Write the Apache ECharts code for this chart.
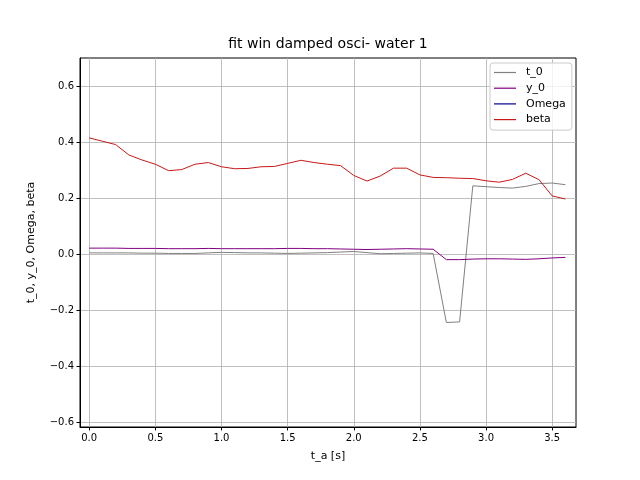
<!DOCTYPE html>
<html>
<head>
<meta charset="utf-8">
<script src="https://cdn.jsdelivr.net/npm/echarts@6/dist/echarts.min.js"></script>
<style>html,body{margin:0;padding:0;background:#fff}#c{width:640px;height:480px}</style>
</head>
<body>
<div id="c"></div>
<script>
var tA = [0.0,0.1,0.2,0.3,0.4,0.5,0.6,0.7,0.8,0.9,1.0,1.1,1.2,1.3,1.4,1.5,1.6,1.7,1.8,1.9,2.0,2.1,2.2,2.3,2.4,2.5,2.6,2.7,2.8,2.9,3.0,3.1,3.2,3.3,3.4,3.5,3.6];
var t0 = [0.005,0.005,0.005,0.005,0.004,0.004,0.003,0.003,0.003,0.005,0.007,0.006,0.005,0.005,0.004,0.003,0.004,0.005,0.006,0.008,0.010,0.006,0.002,0.003,0.004,0.005,0.003,-0.243,-0.241,0.244,0.241,0.238,0.236,0.242,0.252,0.254,0.248];
var y0 = [0.022,0.022,0.022,0.021,0.021,0.021,0.020,0.020,0.020,0.021,0.020,0.020,0.020,0.020,0.020,0.021,0.021,0.020,0.020,0.019,0.018,0.017,0.018,0.019,0.020,0.019,0.018,-0.019,-0.019,-0.017,-0.016,-0.016,-0.017,-0.018,-0.016,-0.013,-0.011];
var omega = [];
var beta = [0.415,0.403,0.391,0.354,0.336,0.321,0.298,0.302,0.321,0.327,0.312,0.305,0.306,0.312,0.313,0.324,0.335,0.327,0.321,0.316,0.281,0.261,0.279,0.307,0.307,0.283,0.274,0.273,0.271,0.270,0.262,0.257,0.267,0.289,0.266,0.208,0.197];
var xTicks = [0.0,0.5,1.0,1.5,2.0,2.5,3.0,3.5];
var yTicks = [-0.6,-0.4,-0.2,0.0,0.2,0.4,0.6];

function pairs(ys){ return ys.map(function(v,i){ return [tA[i], v]; }); }
function fmt(v){ var s = Math.abs(v).toFixed(1); return (v < -1e-9 ? '\u2212' : '') + s; }

var font = 'DejaVu Sans';
var chart = echarts.init(document.getElementById('c'), null, {renderer:'canvas'});
var mk = function(name, data, color){
  return {name:name, type:'line', data:pairs(data), symbol:'none', showSymbol:false,
    lineStyle:{color:color, width:1}, itemStyle:{color:color}, animation:false, z:2};
};
chart.setOption({
  animation:false,
  backgroundColor:'#fff',
  title:{text:'fit win damped osci- water 1', left:328, top:37, textAlign:'center', padding:0,
    textStyle:{fontFamily:font, fontSize:14, fontWeight:'normal', color:'#000'}},
  legend:{orient:'vertical', left:490, top:63, icon:'rect',
    padding:[3,6,4,4], itemGap:2.7, itemWidth:22, itemHeight:1.2,
    borderColor:'#cccccc', borderWidth:1, borderRadius:3, backgroundColor:'rgba(255,255,255,0.8)',
    textStyle:{fontFamily:font, fontSize:11, color:'#000', lineHeight:13, padding:[0,0,0,5]},
    data:['t_0','y_0','Omega','beta']},
  grid:{left:80, top:58, width:496, height:369, show:true, borderColor:'#000', borderWidth:1, backgroundColor:'transparent', containLabel:false},
  xAxis:{type:'value', min:-0.0695, max:3.68,
    name:'t_a [s]', nameLocation:'middle', nameGap:24,
    nameTextStyle:{fontFamily:font, fontSize:11, color:'#000'},
    axisLine:{show:true, onZero:false, lineStyle:{color:'#000', width:1}},
    axisTick:{show:true, length:3.5, customValues:xTicks, lineStyle:{color:'#000'}},
    axisLabel:{customValues:xTicks, formatter:fmt, fontFamily:font, fontSize:10, color:'#000', margin:6},
    splitLine:{show:true, lineStyle:{color:'#b0b0b0', width:0.8}}},
  yAxis:{type:'value', min:-0.6155, max:0.6996,
    name:'t_0, y_0, Omega, beta', nameLocation:'middle', nameGap:43,
    nameTextStyle:{fontFamily:font, fontSize:11, color:'#000'},
    axisLine:{show:true, onZero:false, lineStyle:{color:'#000', width:1}},
    axisTick:{show:true, length:3.5, customValues:yTicks, lineStyle:{color:'#000'}},
    axisLabel:{customValues:yTicks, formatter:fmt, fontFamily:font, fontSize:10, color:'#000', margin:6},
    splitLine:{show:true, lineStyle:{color:'#b0b0b0', width:0.8}}},
  series:[
    mk('t_0', t0, '#808080'),
    mk('y_0', y0, '#800080'),
    mk('Omega', omega, '#00008b'),
    mk('beta', beta, '#c81818')
  ]
});
</script>
</body>
</html>
